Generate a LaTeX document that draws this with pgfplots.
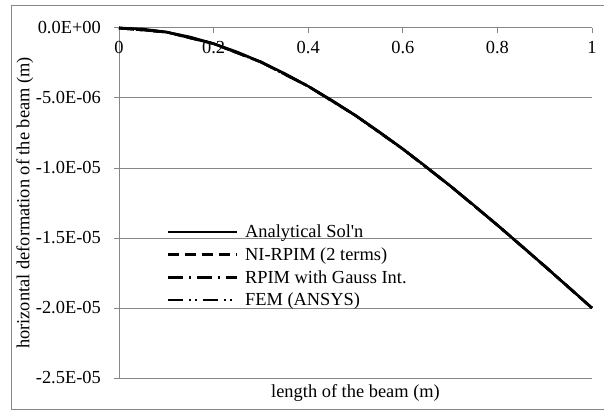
\documentclass[border=0pt]{standalone}
\usepackage{fontspec}
\setmainfont{Liberation Serif}
\usepackage{pgfplots}
\pgfplotsset{compat=1.18}
\definecolor{gridgray}{HTML}{878787}
\newcommand{\chartfont}{\fontsize{18.4bp}{22bp}\selectfont}

\begin{document}
\begin{tikzpicture}[x=1bp,y=1bp]
\path[use as bounding box] (0,0) rectangle (604,410);
\draw[gridgray, line width=1bp] (11,1) rectangle (610,404);
\begin{axis}[
    at={(119bp,32bp)}, anchor=south west,
    scale only axis, width=473bp, height=350bp,
    xmin=0, xmax=1, ymin=-2.5e-5, ymax=0,
    axis line style={gridgray, line width=1bp},
    axis x line*=top, axis y line*=left,
    xtick={0,0.2,0.4,0.6,0.8,1},
    xticklabels={0,0.2,0.4,0.6,0.8,1},
    ytick={0,-5e-6,-1e-5,-1.5e-5,-2e-5,-2.5e-5},
    yticklabels={0.0E+00,-5.0E-06,-1.0E-05,-1.5E-05,-2.0E-05,-2.5E-05},
    scaled y ticks=false,
    tick align=outside, major tick length=5bp,
    tick style={gridgray, line width=1bp},
    x tick style={yshift=-5bp},
    xticklabel style={font=\chartfont, anchor=north, inner sep=0pt, yshift=-18bp},
    yticklabel style={font=\chartfont, anchor=east, inner sep=0pt, xshift=-13bp},
    ymajorgrids, major grid style={gridgray, line width=1bp},
    extra y ticks={-2.5e-5}, extra y tick labels={},
    extra y tick style={grid=major, tick style={draw=none}},
    xlabel={length of the beam (m)},
    ylabel={horizontal deformation of the beam (m)},
    xlabel style={font=\chartfont, at={(axis description cs:0.5,-0.043)}, anchor=center},
    ylabel style={font=\chartfont, at={(axis description cs:-0.199,0.5)}, anchor=center},
    clip=false,
    legend cell align=left,
    legend style={draw=none, fill=none, font=\chartfont, at={(axis description cs:0.1,0.45)},
                  anchor=north west, inner sep=0pt,
                  nodes={inner sep=0pt, minimum height=22.7bp},
                  /tikz/every odd column/.append style={column sep=7bp}},
    legend image code/.code={\draw[#1] (0bp,0bp) -- (69bp,0bp);},
]
\addplot[black, line width=2.6bp] coordinates {
(0,0) (0.05,-7.375e-8) (0.1,-2.9e-7) (0.15,-6.4125e-7) (0.2,-1.12e-6)
(0.25,-1.71875e-6) (0.3,-2.43e-6) (0.35,-3.24625e-6) (0.4,-4.16e-6)
(0.45,-5.16375e-6) (0.5,-6.25e-6) (0.55,-7.41125e-6) (0.6,-8.64e-6)
(0.65,-9.92875e-6) (0.7,-1.127e-5) (0.75,-1.265625e-5) (0.8,-1.408e-5)
(0.85,-1.553375e-5) (0.9,-1.701e-5) (0.95,-1.850125e-5) (1,-2.0e-5)
};
\addlegendentry{Analytical Sol\textquotesingle n}
\addplot[black, line width=2.6bp, dash pattern=on 11bp off 6bp] coordinates {
(0,0) (0.1,-2.91e-7) (0.2,-1.121e-6) (0.3,-2.432e-6) (0.4,-4.162e-6)
(0.5,-6.252e-6) (0.6,-8.642e-6) (0.7,-1.1272e-5) (0.8,-1.4082e-5)
(0.9,-1.7012e-5) (1,-2.0012e-5)
};
\addlegendentry{NI-RPIM (2 terms)}
\addplot[black, line width=2.6bp, dash pattern=on 15bp off 6bp on 2bp off 6bp] coordinates {
(0,0) (0.1,-2.89e-7) (0.2,-1.118e-6) (0.3,-2.428e-6) (0.4,-4.157e-6)
(0.5,-6.246e-6) (0.6,-8.636e-6) (0.7,-1.1266e-5) (0.8,-1.4076e-5)
(0.9,-1.7005e-5) (1,-2.0005e-5)
};
\addlegendentry{RPIM with Gauss Int.}
\addplot[black, line width=2.6bp, dash pattern=on 15bp off 6bp on 2bp off 4bp on 2bp off 6bp] coordinates {
(0,0) (0.1,-2.9e-7) (0.2,-1.12e-6) (0.3,-2.43e-6) (0.4,-4.16e-6)
(0.5,-6.25e-6) (0.6,-8.64e-6) (0.7,-1.127e-5) (0.8,-1.408e-5)
(0.9,-1.701e-5) (1,-2.0e-5)
};
\addlegendentry{FEM (ANSYS)}
\end{axis}
\end{tikzpicture}
\end{document}
